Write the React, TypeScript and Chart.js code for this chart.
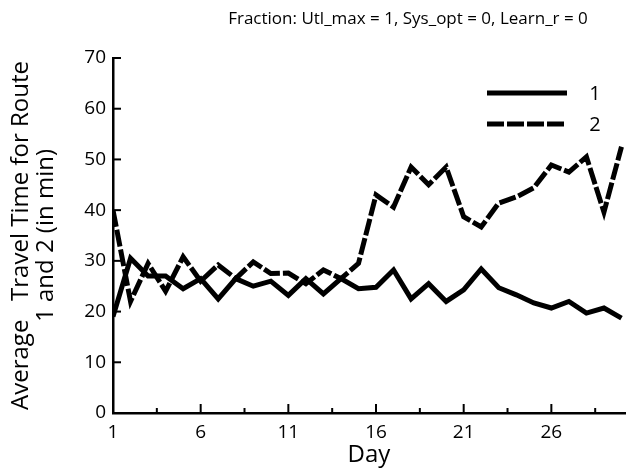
import React, { useEffect, useRef } from "react";
import { Chart, registerables } from "chart.js";

Chart.register(...registerables);

const days = [1, 2, 3, 4, 5, 6, 7, 8, 9, 10, 11, 12, 13, 14, 15, 16, 17, 18, 19, 20, 21, 22, 23, 24, 25, 26, 27, 28, 29, 30];
const route1 = [19, 30.5, 27, 27, 24.5, 26.5, 22.5, 26.5, 25, 26, 23.2, 26.5, 23.5, 26.5, 24.5, 24.8, 28.2, 22.5, 25.5, 22, 24.3, 28.4, 24.7, 23.3, 21.7, 20.7, 22, 19.7, 20.7, 18.7];
const route2 = [40, 22, 29.5, 24, 30.8, 26, 29.2, 26.5, 29.8, 27.5, 27.6, 25.5, 28.2, 26.5, 29.5, 43, 40.6, 48.5, 45, 48.5, 38.7, 36.7, 41.4, 42.6, 44.4, 48.9, 47.5, 50.5, 39.6, 52.5];
const seriesLabels = ["1", "2"];
const xTicks = [1, 3.5, 6, 8.5, 11, 13.5, 16, 18.5, 21, 23.5, 26, 28.5];
const xLabelTicks = [1, 6, 11, 16, 21, 26];
const titleText = "Fraction: Utl_max = 1, Sys_opt = 0, Learn_r = 0";
const yTitle = ["Average   Travel Time for Route", "1 and 2 (in min)"];
const xTitle = "Day";

const FONT = "'Open Sans', 'DejaVu Sans', sans-serif";

const inwardTicks = {
  id: "inwardTicks",
  afterDraw(chart: any) {
    const { ctx, chartArea, scales } = chart;
    ctx.save();
    ctx.strokeStyle = "#000";
    ctx.lineWidth = 2;
    const x = scales.x;
    x.ticks.forEach((t: any) => {
      const px = x.getPixelForValue(t.value);
      const major = xLabelTicks.includes(t.value);
      const len = major ? 9 : 5;
      ctx.beginPath();
      ctx.moveTo(px, chartArea.bottom);
      ctx.lineTo(px, chartArea.bottom - len);
      ctx.stroke();
    });
    const y = scales.y;
    y.ticks.forEach((t: any) => {
      const py = y.getPixelForValue(t.value);
      const major = t.value % 10 === 0;
      const len = major ? 8 : 4;
      ctx.beginPath();
      ctx.moveTo(chartArea.left, py);
      ctx.lineTo(chartArea.left + len, py);
      ctx.stroke();
    });
    ctx.restore();
  },
};

const customLegend = {
  id: "customLegend",
  afterDraw(chart: any) {
    const { ctx, chartArea } = chart;
    ctx.save();
    chart.data.datasets.forEach((ds: any, i: number) => {
      const yy = chartArea.top + 35 + i * 31;
      const x0 = chartArea.right - 138;
      const x1 = chartArea.right - 58;
      ctx.strokeStyle = "#000";
      ctx.lineWidth = 5;
      ctx.setLineDash(ds.borderDash || []);
      ctx.beginPath();
      ctx.moveTo(x0, yy);
      ctx.lineTo(x1, yy);
      ctx.stroke();
      ctx.setLineDash([]);
      ctx.fillStyle = "#000";
      ctx.font = `20px ${FONT}`;
      ctx.textAlign = "center";
      ctx.textBaseline = "middle";
      ctx.fillText(ds.label, chartArea.right - 30, yy + 1);
    });
    ctx.restore();
  },
};

const topTitle = {
  id: "topTitle",
  afterDraw(chart: any) {
    const { ctx } = chart;
    ctx.save();
    ctx.fillStyle = "#000";
    ctx.font = `17px ${FONT}`;
    ctx.textAlign = "center";
    ctx.textBaseline = "middle";
    ctx.fillText(titleText, 408, 19);
    ctx.restore();
  },
};

export default function App() {
  const ref = useRef<HTMLCanvasElement | null>(null);
  useEffect(() => {
    document.body.style.margin = "0";
    const chart = new Chart(ref.current as HTMLCanvasElement, {
      type: "line",
      data: {
        datasets: [
          {
            label: seriesLabels[0],
            data: days.map((d, i) => ({ x: d, y: route1[i] })),
            borderColor: "#000",
            borderWidth: 5,
            pointRadius: 0,
            tension: 0,
            borderJoinStyle: "miter",
            fill: false,
          },
          {
            label: seriesLabels[1],
            data: days.map((d, i) => ({ x: d, y: route2[i] })),
            borderColor: "#000",
            borderWidth: 5,
            borderDash: [17, 3],
            pointRadius: 0,
            tension: 0,
            borderJoinStyle: "miter",
            fill: false,
          },
        ],
      },
      options: {
        animation: false,
        responsive: false,
        layout: { padding: { left: 0, right: 5, top: 58, bottom: 0 } },
        plugins: {
          legend: { display: false },
          tooltip: { enabled: false },
          title: { display: false },
        },
        scales: {
          x: {
            type: "linear",
            min: 1,
            max: 30.2,
            afterBuildTicks: (s: any) => {
              s.ticks = xTicks.map((v) => ({ value: v }));
            },
            afterFit: (s: any) => {
              s.height = 57;
            },
            grid: { display: false, drawTicks: false },
            border: { display: true, color: "#000", width: 2.5 },
            ticks: {
              autoSkip: false,
              maxRotation: 0,
              padding: 8,
              color: "#000",
              font: { family: FONT, size: 19 },
              callback: (v: any) => (xLabelTicks.includes(Number(v)) ? String(v) : ""),
            },
            title: {
              display: true,
              text: xTitle,
              color: "#000",
              font: { family: FONT, size: 24, lineHeight: 1.1 },
              padding: { top: 0, bottom: 2 },
            },
          },
          y: {
            min: 0,
            max: 70,
            afterFit: (s: any) => {
              s.width = 113;
            },
            grid: { display: false, drawTicks: false },
            border: { display: true, color: "#000", width: 2.5 },
            ticks: {
              stepSize: 5,
              padding: 7,
              color: "#000",
              font: { family: FONT, size: 19 },
              callback: (v: any) => (Number(v) % 10 === 0 ? String(v) : ""),
            },
            title: {
              display: true,
              text: yTitle,
              color: "#000",
              font: { family: FONT, size: 24, lineHeight: 1.04 },
              padding: { top: 9, bottom: 0 },
            },
          },
        },
      },
      plugins: [inwardTicks, customLegend, topTitle],
    });
    return () => chart.destroy();
  }, []);
  return (
    <div style={{ width: 630, height: 470, background: "#fff" }}>
      <canvas ref={ref} width={630} height={470} />
    </div>
  );
}
